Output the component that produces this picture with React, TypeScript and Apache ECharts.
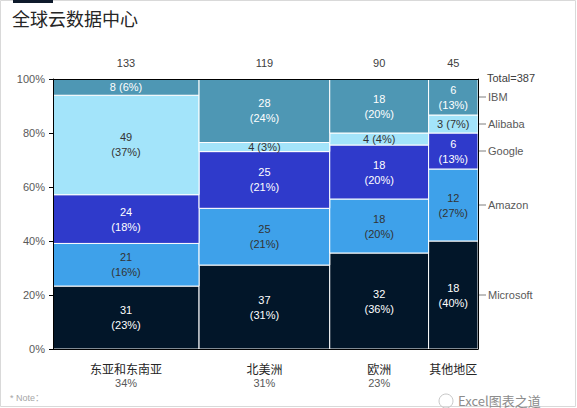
import React, { useEffect, useRef } from 'react';
import * as echarts from 'echarts';

const title = '全球云数据中心';
const regions = ['东亚和东南亚', '北美洲', '欧洲', '其他地区'];
const regionShare = ['34%', '31%', '23%', ''];
const vendors = ['Microsoft', 'Amazon', 'Google', 'Alibaba', 'IBM'];
const microsoft = [31, 37, 32, 18];
const amazon = [21, 25, 18, 12];
const google = [24, 25, 18, 6];
const alibaba = [49, 4, 4, 3];
const ibm = [8, 28, 18, 6];
const yTicks = [0, 20, 40, 60, 80, 100];

const vendorValues = [microsoft, amazon, google, alibaba, ibm];
const colors = ['#021629', '#3ea1ea', '#2f3acb', '#a3e4fa', '#4e97b4'];
const labelColors = ['#ffffff', '#333333', '#ffffff', '#333333', '#ffffff'];

const NUM_FONT = '"Liberation Sans", "Noto Sans CJK SC", sans-serif';
const CJK_FONT = '"Noto Sans CJK SC", sans-serif';

export default function App() {
  const ref = useRef<HTMLDivElement>(null);
  useEffect(() => {
    if (!ref.current) return;
    const chart = echarts.init(ref.current, null, { renderer: 'svg' });

    const totals = regions.map((_, r) => vendorValues.reduce((s, arr) => s + arr[r], 0));
    const grand = totals.reduce((a, b) => a + b, 0);
    const xStarts: number[] = [];
    let acc = 0;
    totals.forEach((t) => {
      xStarts.push(acc);
      acc += t;
    });
    const lastRegion = regions.length - 1;

    const series: any[] = vendors.map((name, v) => {
      const data = regions.map((_, r) => {
        let below = 0;
        for (let k = 0; k < v; k++) below += vendorValues[k][r];
        const y0 = (below / totals[r]) * 100;
        const y1 = ((below + vendorValues[v][r]) / totals[r]) * 100;
        const pct = Math.round((vendorValues[v][r] / totals[r]) * 100);
        return [xStarts[r], xStarts[r] + totals[r], y0, y1, vendorValues[v][r], pct, r];
      });
      return {
        type: 'custom',
        name,
        data,
        clip: false,
        z: 2,
        encode: { x: [0, 1], y: [2, 3] },
        renderItem: (params: any, api: any) => {
          const x0 = api.value(0), x1 = api.value(1), y0 = api.value(2), y1 = api.value(3);
          const val = api.value(4), pct = api.value(5), r = api.value(6);
          const p0 = api.coord([x0, y0]);
          const p1 = api.coord([x1, y1]);
          const w = p1[0] - p0[0];
          const h = p0[1] - p1[1];
          const cx = p0[0] + w / 2;
          const cy = p1[1] + h / 2;
          const text = h < 24 ? `${val} (${pct}%)` : `${val}\n(${pct}%)`;
          const children: any[] = [
            {
              type: 'rect',
              shape: { x: p0[0], y: p1[1], width: w, height: h },
              style: { fill: colors[v], stroke: '#ffffff', lineWidth: 1 },
            },
            {
              type: 'text',
              x: cx,
              y: cy,
              style: {
                text,
                fill: labelColors[v],
                font: `11px ${NUM_FONT}`,
                align: 'center',
                verticalAlign: 'middle',
                lineHeight: 15,
              },
            },
          ];
          if (r === lastRegion) {
            children.push({
              type: 'line',
              shape: { x1: p1[0] + 1, y1: cy, x2: p1[0] + 8, y2: cy },
              style: { stroke: '#7f7f7f', lineWidth: 1 },
            });
            children.push({
              type: 'text',
              x: p1[0] + 10,
              y: cy,
              style: {
                text: name,
                fill: '#595959',
                font: `11px ${NUM_FONT}`,
                align: 'left',
                verticalAlign: 'middle',
              },
            });
          }
          return { type: 'group', children };
        },
      };
    });

    const regionData = regions.map((_, r) => [xStarts[r], xStarts[r] + totals[r], totals[r], r]);
    series.push({
      type: 'custom',
      name: 'regions',
      data: regionData,
      clip: false,
      z: 3,
      encode: { x: [0, 1] },
      renderItem: (params: any, api: any) => {
        const x0 = api.value(0), x1 = api.value(1), total = api.value(2), r = api.value(3);
        const bottom = api.coord([(x0 + x1) / 2, 0]);
        const top = api.coord([(x0 + x1) / 2, 100]);
        const children: any[] = [
          {
            type: 'text',
            x: bottom[0],
            y: bottom[1] + 19,
            style: { text: regions[r], fill: '#262626', font: `12px ${CJK_FONT}`, align: 'center', verticalAlign: 'middle' },
          },
          {
            type: 'text',
            x: bottom[0],
            y: bottom[1] + 34,
            style: { text: regionShare[r], fill: '#595959', font: `11px ${NUM_FONT}`, align: 'center', verticalAlign: 'middle' },
          },
          {
            type: 'text',
            x: top[0],
            y: top[1] - 16,
            style: { text: String(total), fill: '#404040', font: `11px ${NUM_FONT}`, align: 'center', verticalAlign: 'middle' },
          },
        ];
        if (r === lastRegion) {
          const corner = api.coord([x1, 100]);
          children.push({
            type: 'text',
            x: corner[0] + 9,
            y: corner[1] - 1,
            style: { text: `Total=${grand}`, fill: '#404040', font: `11px ${NUM_FONT}`, align: 'left', verticalAlign: 'middle' },
          });
        }
        return { type: 'group', children };
      },
    });

    const frameLine = { show: true, onZero: false, lineStyle: { color: '#000', width: 1 } };

    chart.setOption({
      animation: false,
      grid: { left: 53, right: 99, top: 79, bottom: 59 },
      xAxis: [
        {
          type: 'value', min: 0, max: grand, z: 10,
          axisLine: frameLine,
          axisTick: { show: false }, axisLabel: { show: false }, splitLine: { show: false },
        },
        {
          type: 'value', position: 'top', min: 0, max: grand, z: 10,
          axisLine: frameLine,
          axisTick: { show: false }, axisLabel: { show: false }, splitLine: { show: false },
        },
      ],
      yAxis: [
        {
          type: 'value', min: yTicks[0], max: yTicks[yTicks.length - 1], interval: yTicks[1] - yTicks[0], z: 10,
          axisLine: frameLine,
          axisTick: { show: true, length: 4, lineStyle: { color: '#000' } },
          axisLabel: { formatter: '{value}%', color: '#595959', fontSize: 11, fontFamily: NUM_FONT, margin: 8 },
          splitLine: { show: false },
        },
        {
          type: 'value', position: 'right', min: 0, max: 100, z: 10,
          axisLine: frameLine,
          axisTick: { show: false }, axisLabel: { show: false }, splitLine: { show: false },
        },
      ],
      series,
      graphic: [
        { type: 'rect', shape: { x: 0.5, y: 0.5, width: 575, height: 406 }, style: { fill: 'none', stroke: '#d9d9d9', lineWidth: 1 }, z: 0 },
        { type: 'rect', shape: { x: 13, y: 0, width: 40, height: 3 }, style: { fill: '#0e1a2b' } },
        { type: 'text', x: 12, y: 18, style: { text: title, fill: '#262626', font: `18px ${CJK_FONT}`, verticalAlign: 'middle' } },
        { type: 'text', x: 10, y: 398, style: { text: '* Note：', fill: '#a6a6a6', font: `9px ${NUM_FONT}`, verticalAlign: 'middle' } },
        { type: 'circle', shape: { cx: 446, cy: 401, r: 7 }, style: { fill: 'none', stroke: '#c8c8c8', lineWidth: 1 } },
        { type: 'text', x: 458, y: 400, style: { text: 'Excel图表之道', fill: '#8c8c8c', font: `13px ${CJK_FONT}`, verticalAlign: 'middle' } },
      ],
    });
    return () => chart.dispose();
  }, []);
  return <div ref={ref} style={{ position: 'absolute', left: 0, top: 0, width: 577, height: 408 }} />;
}
